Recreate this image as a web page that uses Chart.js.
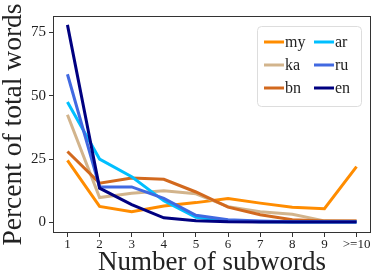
<!DOCTYPE html>
<html>
<head>
<meta charset="utf-8">
<script src="https://cdn.jsdelivr.net/npm/chart.js@4"></script>
<style>
  html, body { margin: 0; padding: 0; background: #fff; }
  #wrap { width: 376px; height: 272px; }
</style>
</head>
<body>
<div id="wrap"><canvas id="subword-chart" width="376" height="272"></canvas></div>
<script>
/* subword distribution per language */
const tickLabels = ['1', '2', '3', '4', '5', '6', '7', '8', '9', '>=10'];
const xs = [1, 2, 3, 4, 5, 6, 7, 8, 9, 10];

const langs = ['my', 'ka', 'bn', 'ar', 'ru', 'en'];
const colors = ['#FF8C00', '#D2B48C', '#D2691E', '#00BFFF', '#4169E1', '#000080'];

const myVals = [24.5, 6.3, 4.2, 6.5, 7.8, 9.4, 7.6, 6.0, 5.4, 22.0];
const kaVals = [42.5, 9.8, 11.5, 12.5, 11.3, 6.2, 4.2, 3.2, 0.6, 0.5];
const bnVals = [28.0, 15.5, 17.5, 17.0, 12.0, 6.0, 3.0, 1.0, 0.5, 0.5];
const arVals = [47.5, 25.0, 18.0, 8.5, 2.0, 0.6, 0.2, 0.1, 0.1, 0.1];
const ruVals = [58.5, 14.0, 14.0, 9.5, 2.8, 1.0, 0.5, 0.2, 0.2, 0.2];
const enVals = [78.0, 13.5, 7.0, 1.8, 0.6, 0.2, 0.1, 0.1, 0.1, 0.1];

const series = [myVals, kaVals, bnVals, arVals, ruVals, enVals];
const FONT = "'Liberation Serif', 'DejaVu Serif', serif";

const frameBox = {
  id: 'frameBox',
  afterDatasetsDraw(chart) {
    const { ctx, chartArea: a } = chart;
    ctx.save();
    ctx.strokeStyle = '#333';
    ctx.lineWidth = 1;
    ctx.strokeRect(a.left + 0.5, a.top + 0.5, a.right - a.left - 1, a.bottom - a.top - 1);
    ctx.restore();
  }
};

// legend inside the axes, two columns, column-major like the original
const innerLegend = {
  id: 'innerLegend',
  afterDraw(chart) {
    const { ctx, chartArea: a } = chart;
    const x0 = a.right - 114, y0 = a.top + 10, w = 104, h = 80;
    ctx.save();
    ctx.fillStyle = 'rgba(255,255,255,0.85)';
    ctx.strokeStyle = '#dddddd';
    ctx.lineWidth = 1;
    ctx.beginPath();
    ctx.roundRect(x0 + 0.5, y0 + 0.5, w, h, 4);
    ctx.fill();
    ctx.stroke();
    ctx.font = '16px ' + FONT;
    ctx.textBaseline = 'middle';
    chart.data.datasets.forEach((ds, i) => {
      const col = Math.floor(i / 3), row = i % 3;
      const lx = x0 + 7 + col * 50;
      const ly = y0 + 16 + row * 23;
      ctx.strokeStyle = ds.borderColor;
      ctx.lineWidth = 3;
      ctx.beginPath();
      ctx.moveTo(lx, ly);
      ctx.lineTo(lx + 20, ly);
      ctx.stroke();
      ctx.fillStyle = '#222';
      ctx.fillText(ds.label, lx + 21, ly + 1);
    });
    ctx.restore();
  }
};

const datasets = langs.map((name, i) => ({
  label: name,
  data: xs.map((x, j) => ({ x, y: series[i][j] })),
  borderColor: colors[i],
  backgroundColor: colors[i],
  borderWidth: 3,
  pointRadius: 0,
  tension: 0,
  order: langs.length - i
}));

new Chart(document.getElementById('subword-chart'), {
  type: 'line',
  data: { datasets },
  options: {
    responsive: false,
    animation: false,
    layout: { padding: { top: 16, right: 5, left: 0, bottom: 0 } },
    plugins: { legend: { display: false }, tooltip: { enabled: false } },
    scales: {
      x: {
        type: 'linear',
        min: 0.55,
        max: 10.45,
        afterFit: s => { s.height = 39; },
        afterBuildTicks: s => { s.ticks = xs.map(v => ({ value: v })); },
        border: { display: false },
        grid: { drawOnChartArea: false, drawTicks: true, tickLength: 4, tickColor: '#333' },
        ticks: {
          padding: 0,
          maxRotation: 0,
          autoSkip: false,
          color: '#222',
          font: { family: FONT, size: 13 },
          callback: v => tickLabels[v - 1]
        },
        title: {
          display: true,
          text: 'Number of subwords',
          color: '#222',
          padding: 0,
          font: { family: FONT, size: 27, lineHeight: 0.7 }
        }
      },
      y: {
        min: -4.2,
        max: 81.5,
        afterFit: s => { s.width = 53; },
        afterBuildTicks: s => { s.ticks = [0, 25, 50, 75].map(v => ({ value: v })); },
        border: { display: false },
        grid: { drawOnChartArea: false, drawTicks: true, tickLength: 4, tickColor: '#333' },
        ticks: {
          padding: 3,
          color: '#222',
          font: { family: FONT, size: 15 }
        },
        title: {
          display: true,
          text: 'Percent of total words',
          color: '#222',
          padding: 0,
          font: { family: FONT, size: 27.5, lineHeight: 1 }
        }
      }
    }
  },
  plugins: [frameBox, innerLegend]
});
</script>
</body>
</html>
